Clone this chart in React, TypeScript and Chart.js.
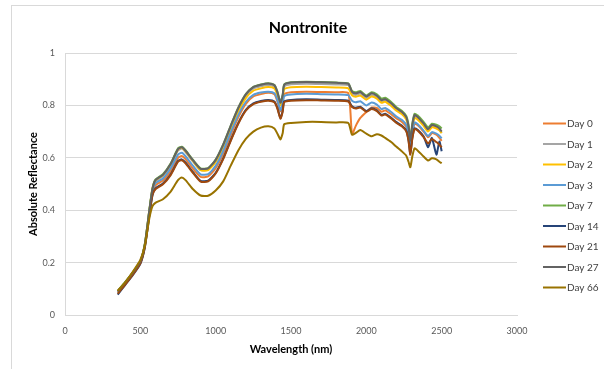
import React, { useEffect, useRef } from "react";
import { Chart, registerables } from "chart.js";

Chart.register(...registerables);

const TITLE = "Nontronite";
const X_TITLE = "Wavelength (nm)";
const Y_TITLE = "Absolute Reflectance";

const X_TICK_LABELS = ["0", "500", "1000", "1500", "2000", "2500", "3000"];
const Y_TICK_LABELS = ["0", "0.2", "0.4", "0.6", "0.8", "1"];

const WAVELENGTHS = [350, 400, 450, 500, 530, 560, 580, 600, 650, 700, 750, 775, 800, 850, 900, 950, 1000, 1050, 1100, 1150, 1200, 1250, 1300, 1350, 1390, 1410, 1430, 1445, 1455, 1500, 1600, 1700, 1800, 1880, 1905, 1930, 1960, 2000, 2035, 2070, 2100, 2125, 2165, 2200, 2235, 2265, 2280, 2292, 2305, 2320, 2340, 2380, 2410, 2435, 2465, 2485, 2500];

const DAY_0 = [0.088, 0.122, 0.158, 0.200, 0.264, 0.390, 0.465, 0.495, 0.513, 0.548, 0.600, 0.607, 0.595, 0.558, 0.527, 0.529, 0.560, 0.616, 0.688, 0.755, 0.806, 0.834, 0.843, 0.848, 0.842, 0.815, 0.778, 0.805, 0.843, 0.850, 0.852, 0.851, 0.850, 0.847, 0.690, 0.722, 0.752, 0.775, 0.792, 0.790, 0.776, 0.781, 0.766, 0.750, 0.738, 0.718, 0.686, 0.628, 0.690, 0.730, 0.725, 0.700, 0.678, 0.694, 0.688, 0.676, 0.665];
const DAY_1 = [0.090, 0.124, 0.160, 0.203, 0.268, 0.397, 0.476, 0.510, 0.530, 0.570, 0.628, 0.635, 0.622, 0.585, 0.553, 0.555, 0.587, 0.645, 0.717, 0.784, 0.836, 0.864, 0.873, 0.878, 0.871, 0.845, 0.806, 0.835, 0.872, 0.881, 0.883, 0.882, 0.880, 0.877, 0.846, 0.840, 0.845, 0.828, 0.840, 0.831, 0.814, 0.818, 0.802, 0.783, 0.770, 0.749, 0.714, 0.660, 0.719, 0.757, 0.751, 0.725, 0.703, 0.719, 0.714, 0.706, 0.695];
const DAY_2 = [0.091, 0.125, 0.162, 0.204, 0.270, 0.400, 0.480, 0.514, 0.534, 0.574, 0.632, 0.639, 0.625, 0.588, 0.553, 0.553, 0.584, 0.640, 0.710, 0.777, 0.828, 0.856, 0.865, 0.870, 0.864, 0.838, 0.800, 0.828, 0.862, 0.869, 0.871, 0.870, 0.868, 0.865, 0.838, 0.833, 0.838, 0.822, 0.834, 0.826, 0.810, 0.814, 0.798, 0.780, 0.767, 0.747, 0.712, 0.655, 0.714, 0.752, 0.746, 0.722, 0.700, 0.716, 0.712, 0.705, 0.694];
const DAY_3 = [0.089, 0.123, 0.160, 0.202, 0.267, 0.395, 0.472, 0.503, 0.521, 0.559, 0.612, 0.619, 0.606, 0.569, 0.537, 0.538, 0.569, 0.626, 0.697, 0.763, 0.813, 0.840, 0.849, 0.852, 0.846, 0.820, 0.782, 0.808, 0.836, 0.842, 0.844, 0.843, 0.842, 0.839, 0.818, 0.812, 0.816, 0.800, 0.811, 0.803, 0.786, 0.790, 0.775, 0.757, 0.745, 0.726, 0.690, 0.632, 0.695, 0.735, 0.729, 0.704, 0.683, 0.698, 0.692, 0.684, 0.674];
const DAY_7 = [0.092, 0.126, 0.163, 0.205, 0.272, 0.402, 0.482, 0.517, 0.537, 0.577, 0.636, 0.642, 0.629, 0.592, 0.560, 0.561, 0.593, 0.651, 0.723, 0.791, 0.843, 0.871, 0.880, 0.885, 0.878, 0.852, 0.812, 0.842, 0.880, 0.888, 0.890, 0.889, 0.887, 0.884, 0.855, 0.850, 0.855, 0.838, 0.850, 0.842, 0.826, 0.829, 0.813, 0.793, 0.780, 0.760, 0.726, 0.672, 0.730, 0.768, 0.762, 0.737, 0.716, 0.730, 0.726, 0.720, 0.712];
const DAY_14 = [0.078, 0.115, 0.152, 0.195, 0.258, 0.380, 0.455, 0.483, 0.502, 0.536, 0.588, 0.594, 0.582, 0.545, 0.512, 0.513, 0.543, 0.598, 0.668, 0.733, 0.783, 0.808, 0.817, 0.821, 0.815, 0.790, 0.752, 0.780, 0.815, 0.821, 0.823, 0.822, 0.821, 0.818, 0.797, 0.791, 0.795, 0.779, 0.789, 0.781, 0.764, 0.768, 0.753, 0.736, 0.723, 0.704, 0.668, 0.615, 0.675, 0.713, 0.707, 0.682, 0.640, 0.676, 0.612, 0.662, 0.625];
const DAY_21 = [0.082, 0.117, 0.154, 0.197, 0.260, 0.383, 0.458, 0.480, 0.499, 0.533, 0.585, 0.591, 0.579, 0.542, 0.509, 0.510, 0.540, 0.595, 0.665, 0.730, 0.780, 0.805, 0.814, 0.818, 0.812, 0.787, 0.749, 0.777, 0.812, 0.818, 0.820, 0.819, 0.818, 0.815, 0.794, 0.788, 0.792, 0.776, 0.786, 0.778, 0.761, 0.765, 0.750, 0.733, 0.720, 0.701, 0.665, 0.612, 0.672, 0.710, 0.704, 0.679, 0.655, 0.672, 0.660, 0.650, 0.640];
const DAY_27 = [0.090, 0.125, 0.162, 0.205, 0.270, 0.400, 0.480, 0.515, 0.535, 0.575, 0.633, 0.640, 0.627, 0.590, 0.558, 0.560, 0.592, 0.650, 0.722, 0.790, 0.842, 0.870, 0.879, 0.884, 0.877, 0.850, 0.810, 0.840, 0.878, 0.887, 0.889, 0.888, 0.886, 0.883, 0.852, 0.846, 0.851, 0.834, 0.846, 0.837, 0.820, 0.824, 0.808, 0.789, 0.776, 0.755, 0.720, 0.665, 0.725, 0.763, 0.757, 0.731, 0.709, 0.725, 0.720, 0.712, 0.700];
const DAY_66 = [0.092, 0.125, 0.165, 0.210, 0.265, 0.370, 0.415, 0.428, 0.442, 0.470, 0.515, 0.525, 0.515, 0.480, 0.456, 0.455, 0.475, 0.510, 0.570, 0.628, 0.672, 0.700, 0.715, 0.720, 0.712, 0.692, 0.670, 0.695, 0.728, 0.733, 0.737, 0.737, 0.735, 0.733, 0.688, 0.695, 0.706, 0.692, 0.682, 0.690, 0.685, 0.676, 0.660, 0.642, 0.625, 0.608, 0.585, 0.564, 0.605, 0.636, 0.628, 0.605, 0.590, 0.598, 0.594, 0.585, 0.579];

const SERIES_NAMES = ["Day 0", "Day 1", "Day 2", "Day 3", "Day 7", "Day 14", "Day 21", "Day 27", "Day 66"];
const SERIES_VALUES = [DAY_0, DAY_1, DAY_2, DAY_3, DAY_7, DAY_14, DAY_21, DAY_27, DAY_66];
const SERIES_COLORS = ["#ED7D31", "#A5A5A5", "#FFC000", "#5B9BD5", "#70AD47", "#264478", "#9E480E", "#636363", "#997300"];

const FONT = "Lato, 'Open Sans', sans-serif";

const decorPlugin = {
  id: "decor",
  beforeDraw(chart: any) {
    const ctx = chart.ctx;
    ctx.save();
    ctx.fillStyle = "#ffffff";
    ctx.fillRect(0, 0, chart.width, chart.height);
    ctx.strokeStyle = "#d9d9d9";
    ctx.lineWidth = 1;
    ctx.strokeRect(11.5, 5.5, 800, 600);
    ctx.restore();
  },
  afterDraw(chart: any) {
    const ctx = chart.ctx;
    const area = chart.chartArea;
    ctx.save();
    ctx.fillStyle = "#000000";
    ctx.textAlign = "center";
    ctx.textBaseline = "middle";
    ctx.font = `bold 16px ${FONT}`;
    ctx.fillText(TITLE, 308, 28);
    ctx.font = `bold 11px ${FONT}`;
    ctx.fillText(X_TITLE, (area.left + area.right) / 2, 349);
    ctx.save();
    ctx.translate(33, (area.top + area.bottom) / 2);
    ctx.rotate(-Math.PI / 2);
    ctx.fillText(Y_TITLE, 0, 0);
    ctx.restore();

    // legend
    ctx.font = `10px ${FONT}`;
    ctx.textAlign = "left";
    chart.data.datasets.forEach((ds: any, i: number) => {
      const y = 123.5 + i * 20.5;
      ctx.strokeStyle = ds.borderColor;
      ctx.lineWidth = 2;
      ctx.beginPath();
      ctx.moveTo(543, y);
      ctx.lineTo(566, y);
      ctx.stroke();
      ctx.fillStyle = "#404040";
      ctx.fillText(ds.label, 567, y + 0.5);
    });
    ctx.restore();
  },
};

export default function App() {
  const canvasRef = useRef<HTMLCanvasElement | null>(null);

  useEffect(() => {
    if (!canvasRef.current) return;
    const datasets = SERIES_NAMES.map((name, i) => ({
      label: name,
      data: WAVELENGTHS.map((w, j) => ({ x: w, y: SERIES_VALUES[i][j] })),
      borderColor: SERIES_COLORS[i],
      backgroundColor: SERIES_COLORS[i],
      borderWidth: 2,
      pointRadius: 0,
      tension: 0.2,
      fill: false,
      order: SERIES_NAMES.length - i,
    }));
    const chart = new Chart(canvasRef.current, {
      type: "line",
      data: { datasets },
      options: {
        animation: false,
        responsive: false,
        maintainAspectRatio: false,
        layout: { padding: { top: 53, left: 0, right: 87, bottom: 0 } },
        plugins: {
          legend: { display: false },
          tooltip: { enabled: false },
          title: { display: false },
        },
        scales: {
          x: {
            type: "linear",
            min: 0,
            max: 3000,
            ticks: {
              stepSize: 500,
              color: "#595959",
              font: { family: FONT, size: 9 },
              padding: 11,
              maxRotation: 0,
              callback: (_v: any, i: number) => X_TICK_LABELS[i],
            },
            grid: { display: false, drawTicks: false },
            border: { display: true, color: "#d9d9d9", width: 1 },
            afterFit: (s: any) => {
              s.height = 54;
            },
          },
          y: {
            min: 0,
            max: 1,
            ticks: {
              stepSize: 0.2,
              color: "#595959",
              font: { family: FONT, size: 9 },
              padding: 10,
              callback: (_v: any, i: number) => Y_TICK_LABELS[i],
            },
            grid: { color: "#d9d9d9", drawTicks: false, lineWidth: 1 },
            border: { display: true, color: "#d9d9d9", width: 1 },
            afterFit: (s: any) => {
              s.width = 65;
            },
          },
        },
      } as any,
      plugins: [decorPlugin],
    });
    return () => chart.destroy();
  }, []);

  return (
    <div style={{ position: "fixed", left: 0, top: 0, width: 604, height: 369, background: "#fff" }}>
      <canvas ref={canvasRef} width={604} height={369} style={{ width: 604, height: 369 }} />
    </div>
  );
}
